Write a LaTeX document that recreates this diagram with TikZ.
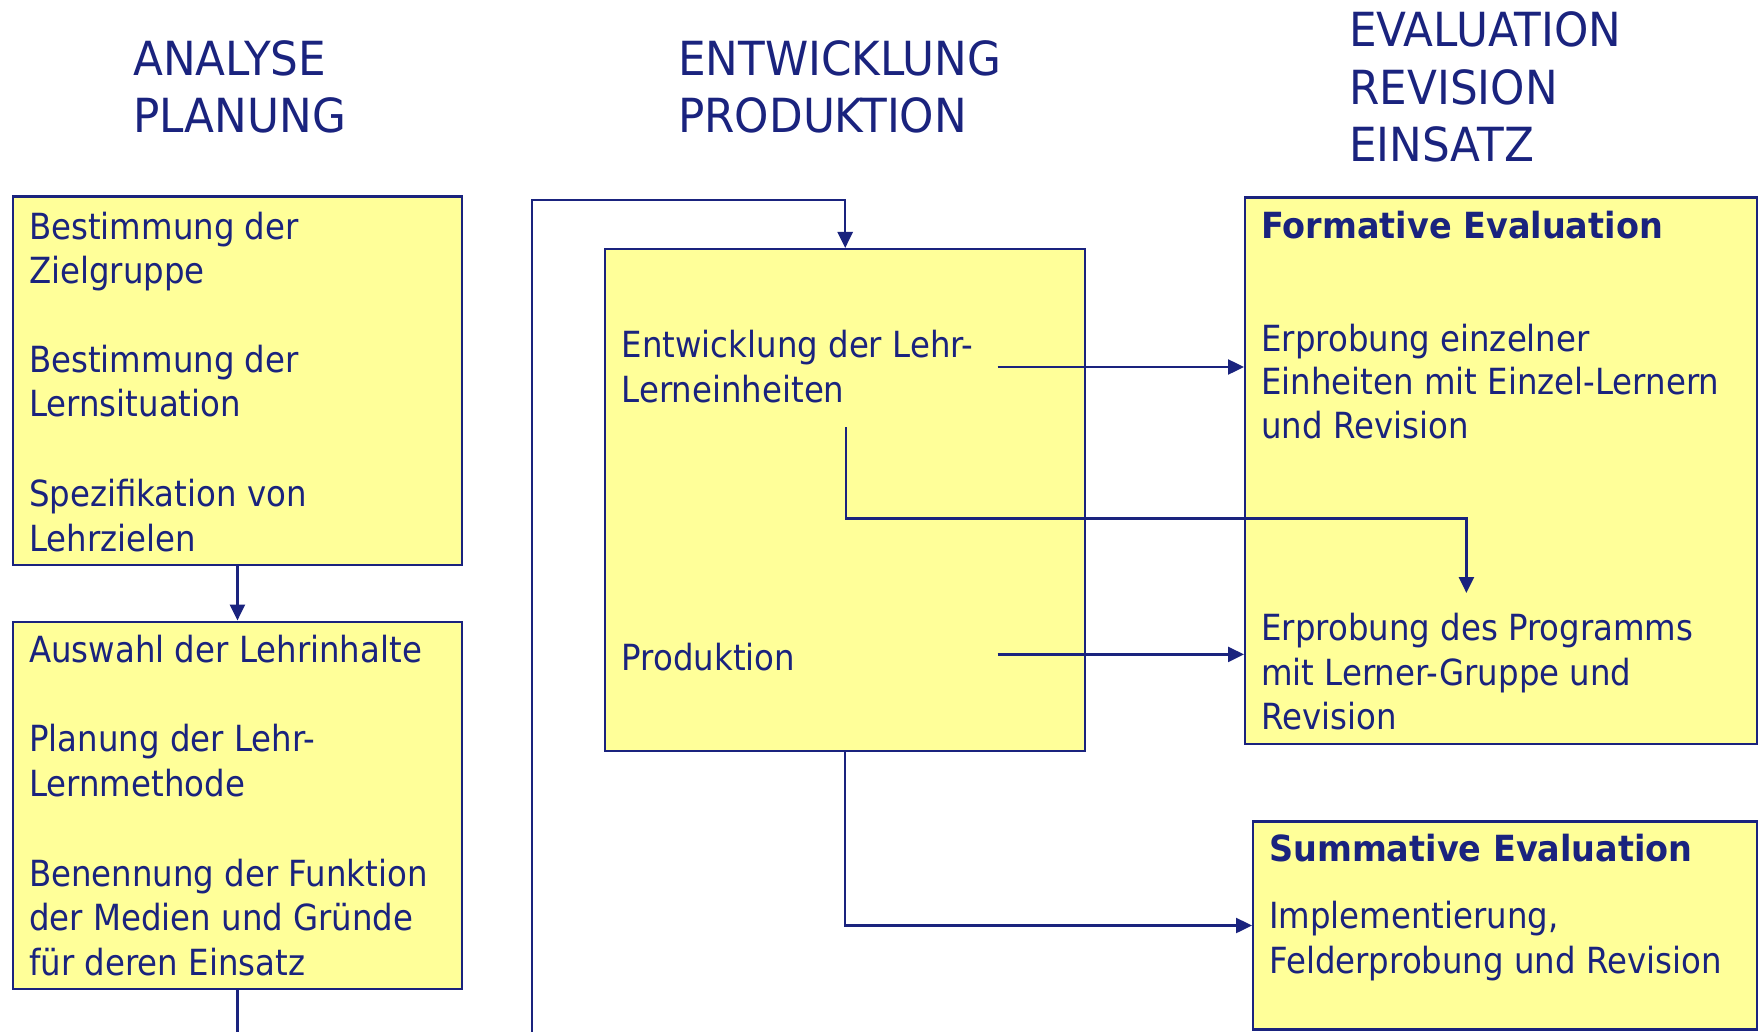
\documentclass[tikz,border=0pt]{standalone}
\usepackage{fontspec}
\setmainfont{DejaVu Sans}[FakeStretch=0.9]
\newfontfamily\widefont{DejaVu Sans}[FakeStretch=0.93]
\usetikzlibrary{arrows.meta}
\definecolor{dnavy}{RGB}{26,35,126}
\definecolor{boxyellow}{RGB}{255,255,153}
\begin{document}
\begin{tikzpicture}[x=1pt,y=-1pt,
  box/.style={draw=dnavy, fill=boxyellow, line width=2.4pt, inner sep=0pt, anchor=north west},
  txt/.style={anchor=base west, inner sep=0pt, text=dnavy, font=\fontsize{36}{43}\selectfont},
  btxt/.style={anchor=base west, inner sep=0pt, text=dnavy, font=\fontsize{36}{43}\selectfont\widefont\bfseries},
  head/.style={anchor=base west, inner sep=0pt, text=dnavy, font=\fontsize{47}{56}\selectfont\widefont},
  conn/.style={draw=dnavy, line width=2.4pt},
  arr/.style={conn, -{Triangle[length=16pt,width=15pt]}}]
\fill[white] (0,0) rectangle (1760,1032);
\useasboundingbox (0,0) rectangle (1760,1032);

% headings
\node[head] (h1a) at (133,75.3) {ANALYSE};
\node[head] (h1b) at (133,132.7) {PLANUNG};
\node[head] (h2a) at (678,75.3) {ENTWICKLUNG};
\node[head] (h2b) at (678,132.7) {PRODUKTION};
\node[head] (h3a) at (1349,46.3) {EVALUATION};
\node[head] (h3b) at (1349,104.3) {REVISION};
\node[head] (h3c) at (1349,161.3) {EINSATZ};

% boxes
\node[box, minimum width=449.5pt, minimum height=368pt] (b1) at (11.5,195.5) {};
\node[box, minimum width=449.5pt, minimum height=367.5pt] (b2) at (11.5,620.5) {};
\node[box, minimum width=480pt, minimum height=501.5pt] (b3) at (604,248) {};
\node[box, minimum width=511.5pt, minimum height=546pt] (b4) at (1244,196.5) {};
\node[box, minimum width=504pt, minimum height=208pt] (b5) at (1252,820.3) {};

% box 1 text
\node[txt] (t11) at (29,239.3) {Bestimmung der};
\node[txt] (t12) at (29,283.5) {Zielgruppe};
\node[txt] (t13) at (29,372.7) {Bestimmung der};
\node[txt] (t14) at (29,416.9) {Lernsituation};
\node[txt] (t15) at (29,506.7) {Spezifikation von};
\node[txt] (t16) at (29,551) {Lehrzielen};

% box 2 text
\node[txt] (t21) at (29,662.7) {Auswahl der Lehrinhalte};
\node[txt] (t22) at (29,751.7) {Planung der Lehr-};
\node[txt] (t23) at (29,796.2) {Lernmethode};
\node[txt] (t24) at (29,886) {Benennung der Funktion};
\node[txt] (t25) at (29,930.5) {der Medien und Gründe};
\node[txt] (t26) at (29,975) {für deren Einsatz};

% box 3 text
\node[txt] (t31) at (621.5,357.2) {Entwicklung der Lehr-};
\node[txt] (t32) at (621.5,402) {Lerneinheiten};
\node[txt] (t33) at (621.5,670.6) {Produktion};

% box 4 text
\node[btxt] (t41) at (1261,238.5) {Formative Evaluation};
\node[txt] (t42) at (1261,351) {Erprobung einzelner};
\node[txt] (t43) at (1261,394) {Einheiten mit Einzel-Lernern};
\node[txt] (t44) at (1261,438) {und Revision};
\node[txt] (t45) at (1261,640.6) {Erprobung des Programms};
\node[txt] (t46) at (1261,685) {mit Lerner-Gruppe und};
\node[txt] (t47) at (1261,729.4) {Revision};

% box 5 text
\node[btxt] (t51) at (1269,861.7) {Summative Evaluation};
\node[txt] (t52) at (1269,928.3) {Implementierung,};
\node[txt] (t53) at (1269,973.3) {Felderprobung und Revision};

% free ends
\coordinate (bottomedge) at (0,1032);
\coordinate (fbot) at (532,1032);
\coordinate (ftop) at (532,200);
\coordinate (a1s) at (997.5,367);
\coordinate (a2s) at (846,427);
\coordinate (a2m) at (846,518.5);
\coordinate (a2e) at (1466.4,593);
\coordinate (a3s) at (997.5,654.4);

% connectors
\draw[arr] (b1.south) -- (b2.north);
\draw[conn] (b2.south) -- (b2.south |- bottomedge);
\draw[arr] (fbot) -- (ftop) -| (b3.north);
\draw[arr] (a1s) -- (b4.west |- a1s);
\draw[arr] (a2s) -- (a2m) -| (a2e);
\draw[arr] (a3s) -- (b4.west |- a3s);
\draw[arr] (b3.south) |- (b5.west);
\end{tikzpicture}
\end{document}
